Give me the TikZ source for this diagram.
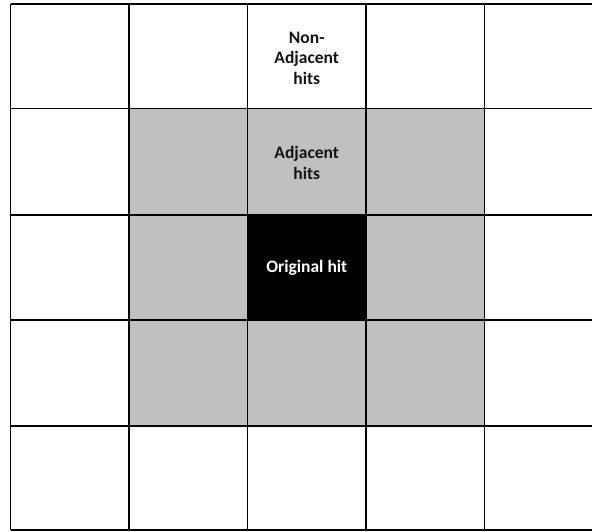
\documentclass[tikz,border=0pt]{standalone}
\usepackage{fontspec}
\setmainfont{Carlito}
\begin{document}
\begin{tikzpicture}[x=1pt,y=-1pt,
  gridline/.style={line width=1.8pt,black},
  adjcell/.style={fill={rgb,255:red,192;green,192;blue,192}},
  origcell/.style={fill=black},
  lbl/.style={font=\fontsize{17.5}{20.5}\selectfont\bfseries,align=center,text={rgb,255:red,20;green,20;blue,20}}
]
\useasboundingbox (0,0) rectangle (592,531);
\def\xa{10.5}\def\xb{129}\def\xc{247.5}\def\xd{366}\def\xe{484.5}\def\xf{603}
\def\ya{4}\def\yb{108.5}\def\yc{215}\def\yd{320}\def\ye{426}\def\yf{530}
% shaded cells
\fill[adjcell] (\xb,\yb) rectangle (\xe,\ye);
\fill[origcell] (\xc,\yc) rectangle (\xd,\yd);
% grid
\begin{scope}
\clip (0,0) rectangle (592,531);
\foreach \x in {\xa,\xb,\xc,\xd,\xe,\xf} \draw[gridline] (\x,\ya) -- (\x,\yf);
\foreach \y in {\ya,\yb,\yc,\yd,\ye,\yf} \draw[gridline] (\xa,\y) -- (\xf,\y);
\end{scope}
% labels
\node[lbl] (nonadj) at ({(\xc+\xd)/2},58) {Non-\\Adjacent\\hits};
\node[lbl] (adj) at ({(\xc+\xd)/2},163) {Adjacent\\hits};
\node[lbl,text=white] (orig) at ({(\xc+\xd)/2},268) {Original hit};
\end{tikzpicture}
\end{document}
